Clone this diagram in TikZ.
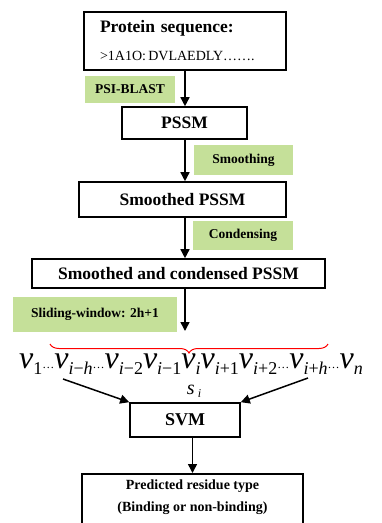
\documentclass[tikz,border=0pt]{standalone}
\usepackage{fontspec}
\setmainfont{Liberation Serif}
\usetikzlibrary{arrows.meta,decorations.pathreplacing}
\definecolor{stepgreen}{RGB}{197,224,153}
\newcommand{\seqv}[1]{v\raisebox{-6pt}{\fontsize{18}{18}\selectfont #1}}
\newcommand{\seqdots}{{\upshape\fontsize{12}{12}\selectfont…}}
\begin{document}
\begin{tikzpicture}
[x=1pt,y=-1pt,
 boxdecorate/.style={shape=rectangle,inner sep=0pt,draw,line width=1.6pt,font=\bfseries\fontsize{17.5}{20}\selectfont},%
 labeldecorate/.style={shape=rectangle,inner sep=0pt,fill=stepgreen,font=\bfseries\fontsize{13.5}{15}\selectfont},%
 linedecorate/.style={-{Triangle[length=9pt,width=9pt]},line width=1.5pt}]
\useasboundingbox (0,0) rectangle (382,523);
%% boxes
\node (protein) at (185,41) [boxdecorate,minimum width=202,minimum height=58,
  align=left,text width=170]
  {Protein sequence:\\[8pt]{\mdseries\fontsize{14}{20}\selectfont >1A1O:\,DVLAEDLY…….}};
\node (pssm) at (184.5,123) [boxdecorate,minimum width=125,minimum height=32] {PSSM};
\node (smoothed) at (182.5,199.5) [boxdecorate,minimum width=207,minimum height=35] {Smoothed PSSM};
\node (condensed) at (178.5,273.5) [boxdecorate,minimum width=293,minimum height=29] {Smoothed and condensed PSSM};
\node (svm) at (185,420) [boxdecorate,minimum width=110,minimum height=34,font=\bfseries\fontsize{18}{20}\selectfont] {SVM};
\node (final) at (192.5,473) [boxdecorate,anchor=north,minimum width=221,minimum height=70] {};
\node (finaltext) at (192.5,497) [align=center,font=\bfseries\fontsize{14}{22}\selectfont]
  {Predicted residue type\\(Binding or non-binding)};
%% green step labels
\foreach \labelname/\x/\y/\w/\h/\labeltext in {psiblast/130/89.5/90/27/PSI-BLAST,
 smoothing/243.5/160/99/30/Smoothing, condensing/243/235.5/100/29/Condensing,
 sliding/95/314.5/164/35/Sliding-window: 2h+1}
{
  \node (\labelname) at (\x,\y) [labeldecorate,minimum width=\w,minimum height=\h] {\labeltext};
}
%% sequence window
\node (seq) at (191,368) [anchor=base,inner sep=0pt,font=\itshape\fontsize{32}{38}\selectfont]
  {\seqv{\upshape 1}\seqdots\seqv{i\upshape−\itshape h}\seqdots\seqv{i\upshape−2}\seqv{i\upshape−1}%
   \seqv{i}\seqv{i\upshape+1}\seqv{i\upshape+2}\seqdots\seqv{i\upshape+\itshape h}\seqdots\seqv{n}};
\node (si) at (194,391) [font=\itshape\fontsize{20}{22}\selectfont]
  {s\,\raisebox{-3pt}{\fontsize{12}{12}\selectfont i}};
\draw[red,line width=1pt,decorate,decoration={brace,mirror,amplitude=9pt}] (50,344) -- (328,344);
\coordinate (bracetip) at (185,331);
\coordinate (leftend) at (63,379);
\coordinate (rightend) at (308,378);
%% arrows
\foreach \startnode/\endnode in {protein/pssm, pssm/smoothed, smoothed/condensed}
{
  \draw[linedecorate] (\startnode.south -| protein) -- (\endnode.north -| protein);
}
\draw[linedecorate] (condensed.south -| protein) -- (bracetip);
\draw[linedecorate] (leftend) -- (svm.north west);
\draw[linedecorate] (rightend) -- (svm.north east);
\draw[linedecorate] (svm.south -| final) -- (final.north);
\end{tikzpicture}
\end{document}
